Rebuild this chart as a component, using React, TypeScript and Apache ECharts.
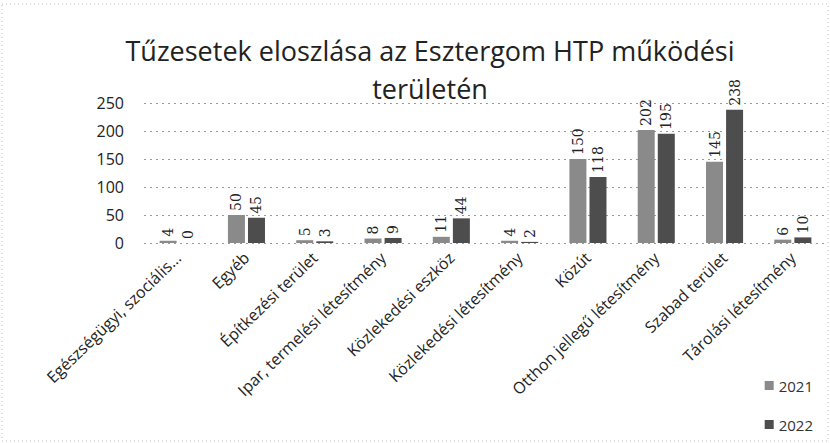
import React, { useEffect, useRef } from "react";
import * as echarts from "echarts";

const categories = [
  "Egészségügyi, szociális...",
  "Egyéb",
  "Építkezési terület",
  "Ipar, termelési létesítmény",
  "Közlekedési eszköz",
  "Közlekedési létesítmény",
  "Közút",
  "Otthon jellegű létesítmény",
  "Szabad terület",
  "Tárolási létesítmény",
];
const values2021 = [4, 50, 5, 8, 11, 4, 150, 202, 145, 6];
const values2022 = [0, 45, 3, 9, 44, 2, 118, 195, 238, 10];
const yTicks = [0, 50, 100, 150, 200, 250];

const FONT = "'Open Sans', 'Noto Sans', sans-serif";

export default function App() {
  const ref = useRef<HTMLDivElement>(null);
  useEffect(() => {
    if (!ref.current) return;
    const chart = echarts.init(ref.current, null, { renderer: "svg" });
    const labelCfg = {
      show: true,
      position: "top",
      rotate: 90,
      align: "left",
      verticalAlign: "middle",
      distance: 4,
      fontFamily: "'DejaVu Serif', serif",
      fontSize: 14,
      color: "#222",
    };
    chart.setOption({
      animation: false,
      backgroundColor: "#fff",
      title: {
        text: "Tűzesetek eloszlása az Esztergom HTP működési\nterületén",
        left: 425,
        top: 26,
        textAlign: "center",
        textStyle: {
          fontFamily: FONT,
          fontSize: 27,
          fontWeight: "normal",
          color: "#222",
          lineHeight: 38,
        },
      },
      legend: {
        orient: "vertical",
        right: 12,
        top: 373,
        itemGap: 24,
        itemWidth: 9,
        itemHeight: 9,
        icon: "rect",
        textStyle: { fontFamily: FONT, fontSize: 15, color: "#333" },
        data: ["2021", "2022"],
      },
      grid: { left: 144, right: 3, top: 103, bottom: 200, containLabel: false },
      xAxis: {
        type: "category",
        data: categories,
        axisLine: { show: false },
        axisTick: { show: false },
        axisLabel: {
          interval: 0,
          rotate: 44,
          fontFamily: FONT,
          fontSize: 16,
          color: "#222",
          margin: 12,
        },
      },
      yAxis: {
        type: "value",
        min: yTicks[0],
        max: yTicks[yTicks.length - 1],
        interval: 50,
        axisLine: { show: false },
        axisTick: { show: false },
        axisLabel: {
          fontFamily: FONT,
          fontSize: 16,
          color: "#222",
          margin: 20,
        },
        splitLine: {
          lineStyle: { type: [2, 4], color: "#999", width: 1 },
        },
      },
      series: [
        {
          name: "2021",
          type: "bar",
          data: values2021,
          barWidth: 17,
          barGap: "18%",
          itemStyle: { color: "#8a8a8a" },
          label: labelCfg,
        },
        {
          name: "2022",
          type: "bar",
          data: values2022,
          barWidth: 17,
          itemStyle: { color: "#4d4d4d" },
          label: labelCfg,
        },
      ],
      graphic: [
        {
          type: "rect",
          shape: { x: 2, y: 4, width: 826, height: 437 },
          style: { fill: "none", stroke: "#bbb", lineDash: [1, 3], lineWidth: 1 },
          silent: true,
        },
      ],
    });
    return () => chart.dispose();
  }, []);
  return (
    <div
      ref={ref}
      style={{ position: "fixed", left: 0, top: 0, width: 830, height: 443 }}
    />
  );
}
